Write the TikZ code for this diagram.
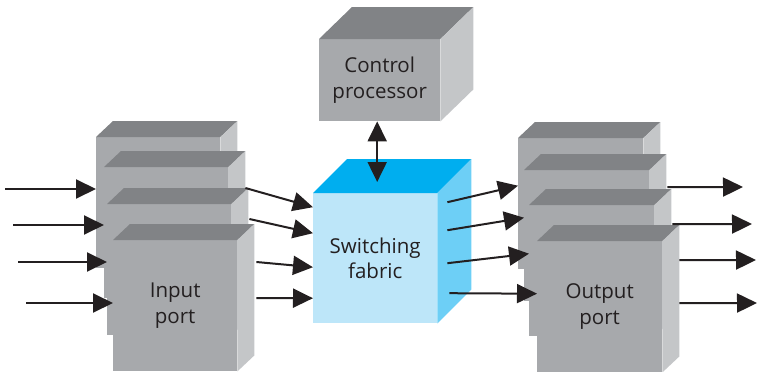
\documentclass[tikz,border=0pt]{standalone}
\usepackage{fontspec}
\setmainfont{Open Sans}
\usetikzlibrary{arrows.meta}
\definecolor{gfront}{HTML}{A7A9AC}
\definecolor{gtop}{HTML}{818386}
\definecolor{gside}{HTML}{C4C6C8}
\definecolor{bfront}{HTML}{BDE6F9}
\definecolor{btop}{HTML}{00AEEF}
\definecolor{bside}{HTML}{6DCFF6}
\definecolor{ink}{HTML}{231F20}
\tikzset{
  face/.style={anchor=north west, inner sep=0pt, align=center, text=ink,
    font=\fontsize{20.5}{25.5}\selectfont},
  port/.style={face, fill=gfront, minimum width=124pt, minimum height=131pt},
  oport/.style={face, fill=gfront, minimum width=125pt, minimum height=131pt},
  ctrlbox/.style={face, fill=gfront, minimum width=121pt, minimum height=82pt},
  fabbox/.style={face, fill=bfront, minimum width=124pt, minimum height=130pt},
  arr/.style={draw=ink, line width=2pt, -{Triangle[length=20pt,width=19pt]}},
  dblarr/.style={draw=ink, line width=2pt,
    {Triangle[length=20pt,width=19pt]}-{Triangle[length=20pt,width=19pt]}},
}
% #1 name, #2 position, #3 style, #4 dx, #5 dy, #6 top colour, #7 side colour, #8 text
\newcommand\mycube[8]{%
  \node[#3] (#1) at #2 {#8};
  \fill[#6] (#1.north west) -- ([shift={(#4,-#5)}]#1.north west)
    -- ([shift={(#4,-#5)}]#1.north east) -- (#1.north east) -- cycle;
  \fill[#7] (#1.north east) -- ([shift={(#4,-#5)}]#1.north east)
    -- ([shift={(#4,-#5)}]#1.south east) -- (#1.south east) -- cycle;
}
\begin{document}
\begin{tikzpicture}[x=1pt,y=-1pt]
\useasboundingbox (0,0) rectangle (758,372);
% input ports
\mycube{in1}{(96,137)}{port}{17}{16}{gtop}{gside}{}
\mycube{in2}{(104,167)}{port}{17}{16}{gtop}{gside}{}
\mycube{in3}{(107,204)}{port}{17}{16}{gtop}{gside}{}
\mycube{in4}{(113,240)}{port}{17}{16}{gtop}{gside}{Input\\port}
% output ports
\mycube{out1}{(518,138)}{oport}{17}{16}{gtop}{gside}{}
\mycube{out2}{(524,170)}{oport}{17}{16}{gtop}{gside}{}
\mycube{out3}{(529,205)}{oport}{17}{16}{gtop}{gside}{}
\mycube{out4}{(537,241)}{oport}{17}{16}{gtop}{gside}{Output\\port}
% control processor and switching fabric
\mycube{ctl}{(319,39)}{ctrlbox}{33}{32}{gtop}{gside}{Control\\processor}
\mycube{fab}{(313,193)}{fabbox}{34}{34}{btop}{bside}{Switching\\fabric}
% incoming lines
\coordinate (s1) at (5,189);
\coordinate (s2) at (13,225);
\coordinate (s3) at (18,262);
\coordinate (s4) at (26,303);
\draw[arr] (s1) -- (in1.west |- s1);
\draw[arr] (s2) -- (in2.west |- s2);
\draw[arr] (s3) -- (in3.west |- s3);
\draw[arr] (s4) -- (in4.west |- s4);
% input ports to fabric
\draw[arr] ([shift={(17,21)}]in2.north east) -- ([shift={(0,-51)}]fab.west);
\draw[arr] ([shift={(18,15)}]in3.north east) -- ([shift={(0,-25)}]fab.west);
\draw[arr] ([shift={(19,22)}]in4.north east) -- ([shift={(0,9)}]fab.west);
\draw[arr] ([shift={(19,58)}]in4.north east) -- ([shift={(0,40)}]fab.west);
% fabric to output ports
\draw[arr] ([shift={(10,-56)}]fab.east) -- ([shift={(0,-18)}]out1.west);
\draw[arr] ([shift={(10,-28)}]fab.east) -- ([shift={(0,-18)}]out2.west);
\draw[arr] ([shift={(10,5)}]fab.east) -- ([shift={(0,-17)}]out3.west);
\draw[arr] ([shift={(12,35)}]fab.east) -- ([shift={(0,-13)}]out4.west);
% outgoing lines
\coordinate (t1) at (743,187);
\coordinate (t2) at (752,224);
\coordinate (t3) at (756,260);
\coordinate (t4) at (757,303);
\draw[arr] ([shift={(18,-48.5)}]out2.east) -- (t1);
\draw[arr] ([shift={(18,-46.5)}]out3.east) -- (t2);
\draw[arr] ([shift={(17,-46.5)}]out4.east) -- (t3);
\draw[arr] ([shift={(17,-3.5)}]out4.east) -- (t4);
% control <-> fabric
\draw[dblarr] ([shift={(-2.5,0)}]ctl.south) -- ([shift={(2,-11)}]fab.north);
\end{tikzpicture}
\end{document}
